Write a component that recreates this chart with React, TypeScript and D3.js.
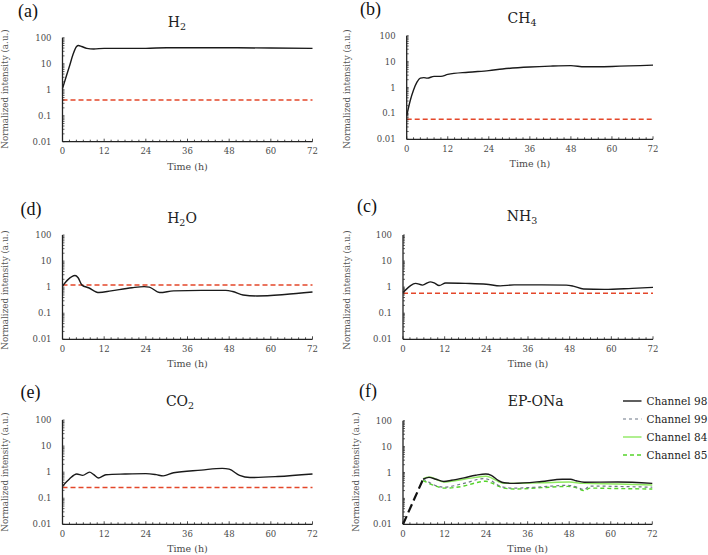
import React from "react";
import * as d3 from "d3";

// ---------- data ----------
const xMajorTicks = [0, 12, 24, 36, 48, 60, 72];
const yMajorTicks = [0.01, 0.1, 1, 10, 100];
const yTickLabels = ["0.01", "0.1", "1", "10", "100"];

const h2Series: [number, number][] = [[0,1.1],[1,3],[2,8],[3,22],[4,45],[4.6,50],[5.5,46],[7,39],[9,37],[12,39],[24,39],[30,41],[36,41],[48,41],[60,40],[72,39]];
const ch4Series: [number, number][] = [[0,0.08],[1,0.3],[2,0.8],[3,1.6],[4,2.3],[5,2.4],[6,2.3],[8,2.7],[10,2.7],[12,3.2],[18,3.9],[24,4.5],[28,5.2],[36,6.2],[42,6.7],[48,7],[52,6.3],[60,6.5],[72,7.3]];
const h2oSeries: [number, number][] = [[0,1.1],[1.5,1.9],[3.6,2.8],[4.5,2.3],[5.6,1.2],[7.5,0.95],[10.5,0.62],[14,0.72],[20,0.95],[23.5,1.05],[25,1.0],[28,0.62],[32,0.72],[40,0.75],[47,0.75],[49,0.68],[52,0.5],[56,0.46],[64,0.52],[72,0.65]];
const nh3Series: [number, number][] = [[0,0.62],[2,1.1],[3.6,1.4],[5.6,1.2],[7.8,1.6],[9,1.45],[10.4,1.15],[12.3,1.45],[18,1.4],[24,1.3],[28,1.12],[32,1.22],[40,1.22],[47,1.2],[49,1.1],[52,0.85],[58,0.82],[66,0.9],[72,0.98]];
const co2Series: [number, number][] = [[0,0.29],[2,0.55],[4.1,0.85],[5.8,0.75],[7.8,1.0],[9,0.8],[10.3,0.6],[12.5,0.8],[18,0.85],[24,0.88],[27,0.8],[29,0.72],[32,0.95],[40,1.2],[46,1.4],[48,1.3],[51,0.75],[54,0.62],[62,0.68],[72,0.85]];

const refLevels = { h2: 0.4, ch4: 0.06, h2o: 1.2, nh3: 0.58, co2: 0.26 };

const epLeadIn: [number, number][] = [[0,0.01],[5.8,0.55]];
const ch98Series: [number, number][] = [[5.8,0.55],[7.5,0.65],[9.5,0.55],[11.8,0.45],[14,0.5],[17.6,0.62],[21,0.78],[23.9,0.88],[25.5,0.78],[27.5,0.5],[29.2,0.4],[32,0.38],[40,0.45],[46,0.55],[48.4,0.55],[50,0.48],[52.3,0.42],[62,0.43],[72,0.38]];
const ch99Series: [number, number][] = [[5.8,0.55],[6.5,0.5],[9,0.33],[11.8,0.27],[17.6,0.38],[23.4,0.58],[25.5,0.48],[27.5,0.32],[29.2,0.27],[32,0.25],[40,0.28],[47.4,0.32],[50,0.28],[52.3,0.22],[54,0.3],[62,0.29],[72,0.27]];
const ch84Series: [number, number][] = [[5.8,0.58],[7.5,0.68],[9.5,0.55],[11.8,0.43],[17.6,0.55],[21,0.65],[23.9,0.72],[25.5,0.62],[27.5,0.45],[29.2,0.38],[40,0.4],[48,0.43],[52,0.38],[62,0.36],[72,0.33]];
const ch85Series: [number, number][] = [[5.8,0.5],[7.5,0.38],[9.5,0.3],[11.8,0.25],[17.6,0.3],[21,0.4],[23.9,0.46],[25.5,0.4],[27.5,0.3],[29.2,0.25],[32,0.23],[40,0.26],[47.4,0.29],[50,0.26],[52.3,0.2],[54,0.25],[62,0.24],[72,0.23]];

const legendNames = ["Channel 98", "Channel 99", "Channel 84", "Channel 85"];

// ---------- styles / layout ----------
const FONT = "'DejaVu Serif', serif";
const LABEL_FONT = "'Liberation Serif', serif";
const RED = "#e4472a";
const TEXT = "#4a4a4a";

type Line = { data: [number, number][]; color: string; width: number; dash?: string };
type Panel = {
  tag: string;
  title: [string, string, string];
  left: number; right: number; top: number; bottom: number;
  titleX: number; titleY: number;
  tagX: number; tagY: number;
  ylabX: number; ylabY: number;
  lines: Line[];
  ref?: number;
};

const black = "#1a1a1a";

const panels: Panel[] = [
  { tag: "(a)", title: ["H", "2", ""], left: 62.5, right: 312.5, top: 37.7, bottom: 141.7, titleX: 177, titleY: 27, tagX: 18, tagY: 17, ylabX: 5, ylabY: 89,
    lines: [{ data: h2Series, color: black, width: 1.4 }], ref: refLevels.h2 },
  { tag: "(b)", title: ["CH", "4", ""], left: 406.7, right: 653, top: 35.7, bottom: 139.3, titleX: 522, titleY: 22.5, tagX: 360, tagY: 15, ylabX: 347, ylabY: 89,
    lines: [{ data: ch4Series, color: black, width: 1.4 }], ref: refLevels.ch4 },
  { tag: "(d)", title: ["H", "2", "O"], left: 62.5, right: 312.5, top: 235, bottom: 339.3, titleX: 182, titleY: 222.5, tagX: 20.5, tagY: 215, ylabX: 5, ylabY: 290,
    lines: [{ data: h2oSeries, color: black, width: 1.4 }], ref: refLevels.h2o },
  { tag: "(c)", title: ["NH", "3", ""], left: 403, right: 653, top: 235, bottom: 339.3, titleX: 522, titleY: 221, tagX: 357, tagY: 212, ylabX: 347, ylabY: 290,
    lines: [{ data: nh3Series, color: black, width: 1.4 }], ref: refLevels.nh3 },
  { tag: "(e)", title: ["CO", "2", ""], left: 62.5, right: 312.5, top: 420, bottom: 524.3, titleX: 180, titleY: 405.5, tagX: 20.5, tagY: 398, ylabX: 5, ylabY: 472,
    lines: [{ data: co2Series, color: black, width: 1.4 }], ref: refLevels.co2 },
  { tag: "(f)", title: ["EP-ONa", "", ""], left: 403, right: 652.3, top: 420.7, bottom: 524.3, titleX: 535.7, titleY: 406, tagX: 359, tagY: 397, ylabX: 356, ylabY: 472,
    lines: [
      { data: epLeadIn, color: "#111", width: 2.2, dash: "9,4" },
      { data: ch85Series, color: "#55d42a", width: 1.4, dash: "4,3" },
      { data: ch99Series, color: "#6d7785", width: 1.2, dash: "3,3" },
      { data: ch84Series, color: "#8fe860", width: 1.4 },
      { data: ch98Series, color: black, width: 1.4 },
    ] },
];

const legendStyles = [
  { color: black, width: 1.4, dash: undefined as string | undefined },
  { color: "#6d7785", width: 1.2, dash: "3,3" },
  { color: "#8fe860", width: 1.4, dash: undefined },
  { color: "#55d42a", width: 1.4, dash: "4,3" },
];

function PanelView({ p }: { p: Panel }) {
  const x = d3.scaleLinear().domain([0, 72]).range([p.left, p.right]);
  const y = d3.scaleLog().domain([0.01, 100]).range([p.bottom, p.top]);
  const line = d3
    .line<[number, number]>()
    .x((d) => x(d[0]))
    .y((d) => y(d[1]))
    .curve(d3.curveMonotoneX);
  const straight = d3
    .line<[number, number]>()
    .x((d) => x(d[0]))
    .y((d) => y(d[1]));
  const xMinor = d3.range(0, 73, 2);
  const yMinor = y.ticks();
  return (
    <g>
      {p.ref !== undefined && (
        <line x1={x(0)} x2={x(72)} y1={y(p.ref)} y2={y(p.ref)} stroke={RED} strokeWidth={1.5} strokeDasharray="5,3" />
      )}
      {p.lines.map((l, i) => (
        <path
          key={i}
          d={(l.data.length === 2 ? straight : line)(l.data) || ""}
          fill="none"
          stroke={l.color}
          strokeWidth={l.width}
          strokeDasharray={l.dash}
        />
      ))}
      <line x1={p.left} x2={p.left} y1={p.top} y2={p.bottom} stroke="#222" strokeWidth={1.3} />
      <line x1={p.left} x2={p.right} y1={p.bottom} y2={p.bottom} stroke="#222" strokeWidth={1.3} />
      {xMinor.map((t) => (
        <line key={"xm" + t} x1={x(t)} x2={x(t)} y1={p.bottom} y2={p.bottom - (t % 12 === 0 ? 3 : 2)} stroke="#222" strokeWidth={0.8} />
      ))}
      {yMinor.map((t, i) => (
        <line key={"ym" + i} x1={p.left} x2={p.left + 2} y1={y(t)} y2={y(t)} stroke="#222" strokeWidth={0.7} />
      ))}
      {xMajorTicks.map((t) => (
        <text key={"xl" + t} x={x(t)} y={p.bottom + 12.5} fontSize={8.5} fontFamily={FONT} textAnchor="middle" fill={TEXT}>
          {String(t)}
        </text>
      ))}
      {yMajorTicks.map((t, i) => (
        <text key={"yl" + i} x={p.left - 11} y={y(t) + 3} fontSize={8.5} fontFamily={FONT} textAnchor="end" fill={TEXT}>
          {yTickLabels[i]}
        </text>
      ))}
      <text x={(p.left + p.right) / 2} y={p.bottom + 28} fontSize={9.5} fontFamily={FONT} textAnchor="middle" fill={TEXT}>
        Time (h)
      </text>
      <text
        transform={`translate(${p.ylabX + 3},${p.ylabY}) rotate(-90)`}
        fontSize={8.8}
        fontFamily={FONT}
        textAnchor="middle"
        fill="#555"
      >
        Normalized intensity (a.u.)
      </text>
      <text x={p.titleX} y={p.titleY} fontSize={14} fontFamily={FONT} textAnchor="middle" fill="#222">
        {p.title[0]}
        {p.title[1] && (
          <tspan fontSize={9.5} dy={3}>
            {p.title[1]}
          </tspan>
        )}
        {p.title[2] && <tspan dy={-3}>{p.title[2]}</tspan>}
      </text>
      <text x={p.tagX} y={p.tagY} fontSize={18} fontFamily={LABEL_FONT} fill="#111">
        {p.tag}
      </text>
    </g>
  );
}

export default function App() {
  return (
    <svg width={708} height={555} style={{ position: "absolute", left: 0, top: 0, background: "#fff" }}>
      {panels.map((p) => (
        <PanelView key={p.tag} p={p} />
      ))}
      {legendNames.map((name, i) => {
        const ly = 401 + i * 18;
        const s = legendStyles[i];
        return (
          <g key={name}>
            <line x1={623} x2={641.5} y1={ly} y2={ly} stroke={s.color} strokeWidth={s.width} strokeDasharray={s.dash} />
            <text x={646.5} y={ly + 3.8} fontSize={10.5} fontFamily={FONT} fill="#222">
              {name}
            </text>
          </g>
        );
      })}
    </svg>
  );
}
